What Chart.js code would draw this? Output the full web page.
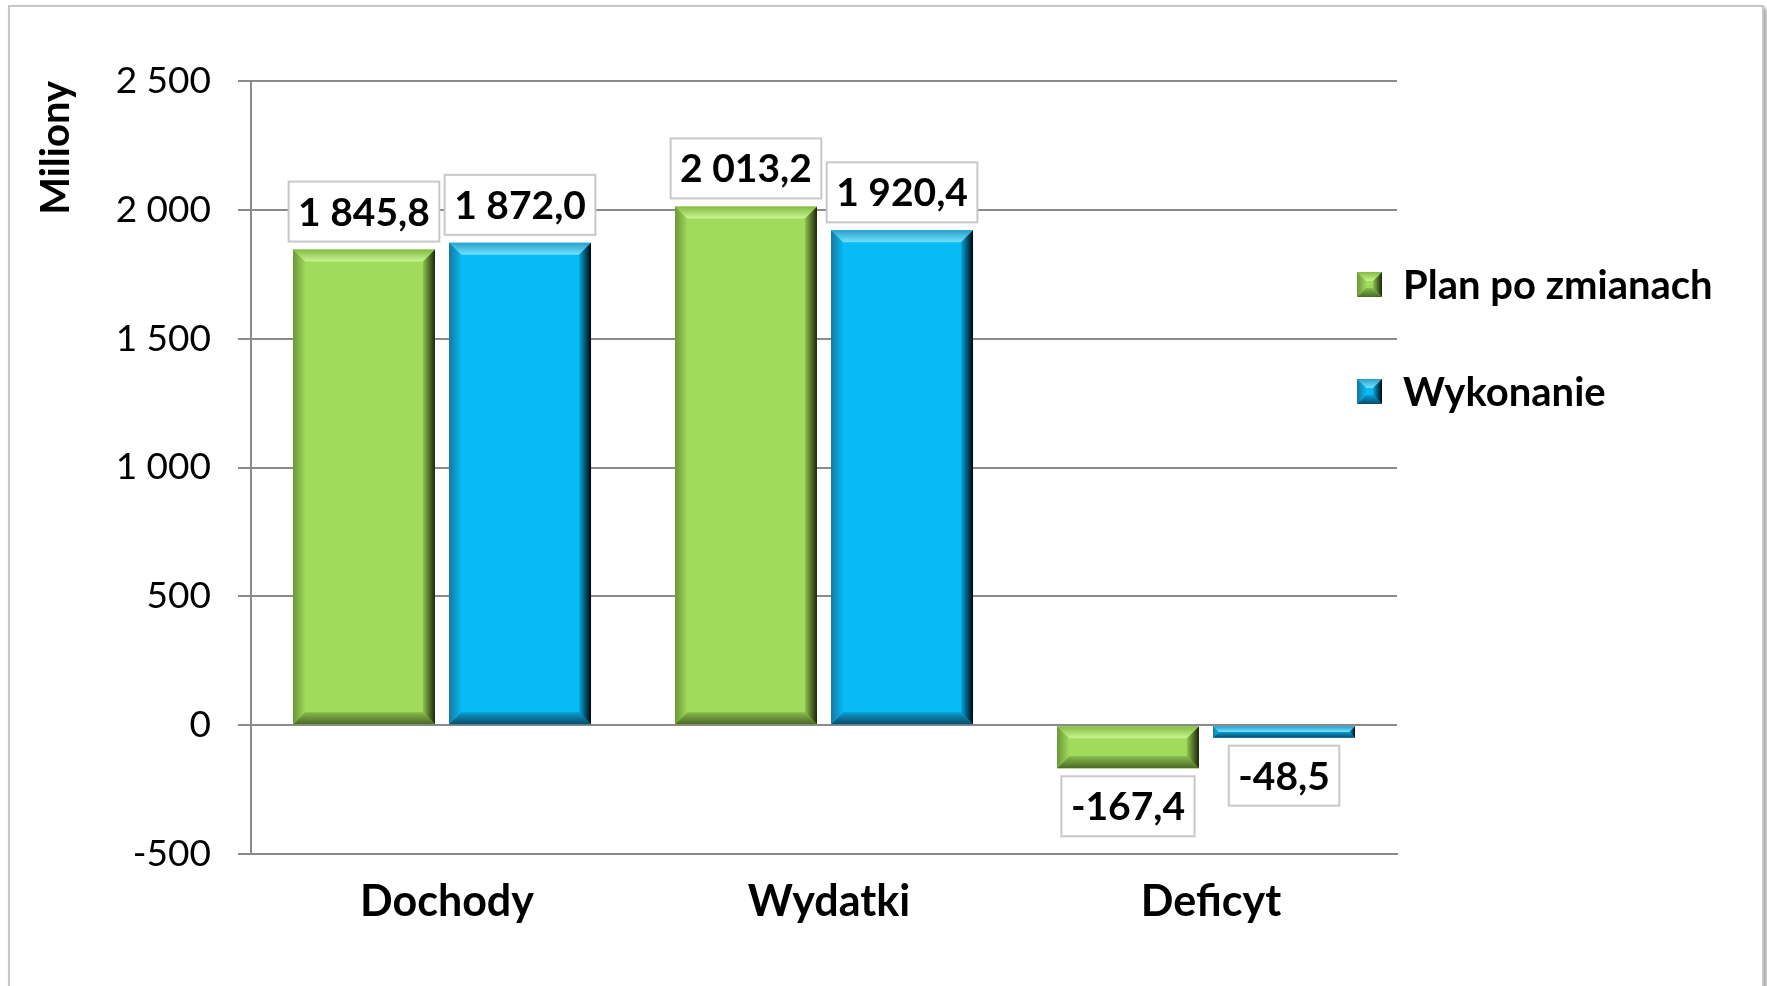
<!DOCTYPE html>
<html><head><meta charset="utf-8">
<script src="https://cdn.jsdelivr.net/npm/chart.js@4.4.1/dist/chart.umd.min.js"></script>
<style>
html,body{margin:0;padding:0;background:#fff;overflow:hidden;}
#frame{position:absolute;left:8px;top:5px;width:1752px;height:1010px;border:2px solid #c6c6c6;box-shadow:3px 3px 4px rgba(0,0,0,0.35);background:#fff;}
#wrap{position:absolute;left:0;top:0;width:1767px;height:986px;}
</style></head>
<body><div id="frame"></div><div id="wrap"><canvas id="c" width="1767" height="986"></canvas></div>
<script>
// ---- data ----
const categories = ['Dochody', 'Wydatki', 'Deficyt'];
const planValues = [1845.8, 2013.2, -167.4];
const wykonanieValues = [1872.0, 1920.4, -48.5];
const seriesNames = ['Plan po zmianach', 'Wykonanie'];
const yTicks = [-500, 0, 500, 1000, 1500, 2000, 2500];
const axisTitle = 'Miliony';

// ---- styles ----
const GRID = '#8a8a8a';
const bevelStyles = [
  {main:'#a0db5b', top:['#84bb44','#c8f590'], bottom:['#4a6a25','#88ba4c'], left:['#6a9838','#9fd65a'], right:['#1b260b','#8dc34d']},
  {main:'#06bbf6', top:['#2a9fcb','#72e2ff'], bottom:['#0a4c69','#0a9dd0'], left:['#17789f','#06b6ef'], right:['#00060a','#05a8df']}
];

function groupNum(s){ return s.replace(/\B(?=(\d{3})+(?!\d))/g, ' '); }
function fmtVal(v){
  const neg = v < 0;
  const parts = Math.abs(v).toFixed(1).split('.');
  return (neg ? '-' : '') + groupNum(parts[0]) + ',' + parts[1];
}
function fmtTick(v){ return (v < 0 ? '-' : '') + groupNum(String(Math.abs(v))); }

function grad(ctx, x0, y0, x1, y1, c0, c1){
  const g = ctx.createLinearGradient(x0, y0, x1, y1);
  g.addColorStop(0, c0); g.addColorStop(1, c1); return g;
}
function poly(ctx, pts, fill){
  ctx.beginPath(); ctx.moveTo(pts[0][0], pts[0][1]);
  for (let i = 1; i < pts.length; i++) ctx.lineTo(pts[i][0], pts[i][1]);
  ctx.closePath(); ctx.fillStyle = fill; ctx.fill();
}
function bevelRect(ctx, L, T, R, B, bw, st){
  const b = Math.min(bw, (B - T) / 2, (R - L) / 2);
  poly(ctx, [[L,T],[R,T],[R-b,T+b],[L+b,T+b]], grad(ctx, 0, T, 0, T+b, st.top[0], st.top[1]));
  poly(ctx, [[L,B],[R,B],[R-b,B-b],[L+b,B-b]], grad(ctx, 0, B, 0, B-b, st.bottom[0], st.bottom[1]));
  poly(ctx, [[L,T],[L+b,T+b],[L+b,B-b],[L,B]], grad(ctx, L, 0, L+b, 0, st.left[0], st.left[1]));
  poly(ctx, [[R,T],[R-b,T+b],[R-b,B-b],[R,B]], grad(ctx, R, 0, R-b, 0, st.right[0], st.right[1]));
}

const bevelPlugin = {
  id: 'bevel',
  afterDatasetsDraw(chart){
    const ctx = chart.ctx;
    ctx.save();
    chart.data.datasets.forEach((ds, di) => {
      const meta = chart.getDatasetMeta(di);
      meta.data.forEach(el => {
        const p = el.getProps(['x','y','base','width'], true);
        const L = p.x - p.width/2, R = p.x + p.width/2;
        const T = Math.min(p.y, p.base), B = Math.max(p.y, p.base);
        bevelRect(ctx, L, T, R, B, 12, bevelStyles[di]);
      });
    });
    ctx.restore();
  }
};

const labelPlugin = {
  id: 'valueLabels',
  afterDatasetsDraw(chart){
    const ctx = chart.ctx;
    const size = 39;
    ctx.save();
    ctx.font = 'bold ' + size + 'px Lato';
    ctx.textAlign = 'center';
    ctx.textBaseline = 'alphabetic';
    chart.data.datasets.forEach((ds, di) => {
      const meta = chart.getDatasetMeta(di);
      meta.data.forEach((el, i) => {
        const v = ds.data[i];
        const txt = fmtVal(v);
        const p = el.getProps(['x','y','base'], true);
        const w = ctx.measureText(txt).width + 19, h = 60;
        let top;
        if (v >= 0) top = Math.min(p.y, p.base) - 8 - h;
        else top = Math.max(p.y, p.base) + 8;
        const left = p.x - w/2;
        ctx.fillStyle = '#fff';
        ctx.fillRect(left, top, w, h);
        ctx.strokeStyle = '#c8c8c8';
        ctx.lineWidth = 2;
        ctx.strokeRect(left, top, w, h);
        ctx.fillStyle = '#000';
        ctx.fillText(txt, p.x, top + h/2 + 0.36*size);
      });
    });
    ctx.restore();
  }
};

const legendPlugin = {
  id: 'sideLegend',
  afterDraw(chart){
    const ctx = chart.ctx;
    const ca = chart.chartArea;
    const size = 40;
    const rows = [ca.top + 203.5, ca.top + 310.5];
    ctx.save();
    ctx.font = 'bold ' + size + 'px Lato';
    ctx.textAlign = 'left';
    ctx.textBaseline = 'alphabetic';
    chart.data.datasets.forEach((ds, di) => {
      const cy = rows[di];
      const x0 = ca.right - 40, s = 25;
      const L = x0, R = x0 + s, T = cy - s/2, B = cy + s/2;
      ctx.fillStyle = bevelStyles[di].main;
      ctx.fillRect(L, T, s, s);
      bevelRect(ctx, L, T, R, B, 9, bevelStyles[di]);
      ctx.fillStyle = '#000';
      ctx.fillText(ds.label, x0 + 46, cy + 0.36*size);
    });
    ctx.restore();
  }
};

new Chart(document.getElementById('c'), {
  type: 'bar',
  data: {
    labels: categories,
    datasets: [
      {label: seriesNames[0], data: planValues, backgroundColor: bevelStyles[0].main, borderWidth: 0},
      {label: seriesNames[1], data: wykonanieValues, backgroundColor: bevelStyles[1].main, borderWidth: 0}
    ]
  },
  plugins: [bevelPlugin, labelPlugin, legendPlugin],
  options: {
    responsive: false,
    animation: false,
    devicePixelRatio: 1,
    layout: {padding: {left: 10, top: 81, right: 370, bottom: 0}},
    datasets: {bar: {categoryPercentage: 0.817, barPercentage: 0.91}},
    plugins: {legend: {display: false}, tooltip: {enabled: false}},
    scales: {
      x: {
        grid: {display: false, drawTicks: false},
        border: {display: true, color: GRID, width: 2},
        ticks: {font: {family: 'Lato', weight: 'bold', size: 43}, color: '#000', padding: 22, labelOffset: 5},
        afterFit(s){ s.height = 132; }
      },
      y: {
        min: -500, max: 2500,
        afterBuildTicks(s){ s.ticks = yTicks.map(v => ({value: v})); },
        grid: {color: GRID, lineWidth: 2, tickLength: 13, drawTicks: true},
        border: {color: GRID, width: 2},
        ticks: {font: {family: 'Lato', size: 37}, color: '#000', padding: 27, callback: v => fmtTick(v)},
        title: {display: true, text: axisTitle, align: 'end', color: '#000',
                font: {family: 'Lato', weight: 'bold', size: 40}, padding: {top: 22, bottom: 0}},
        afterFit(s){ s.width = 241; }
      }
    }
  }
});
</script>
</body></html>
